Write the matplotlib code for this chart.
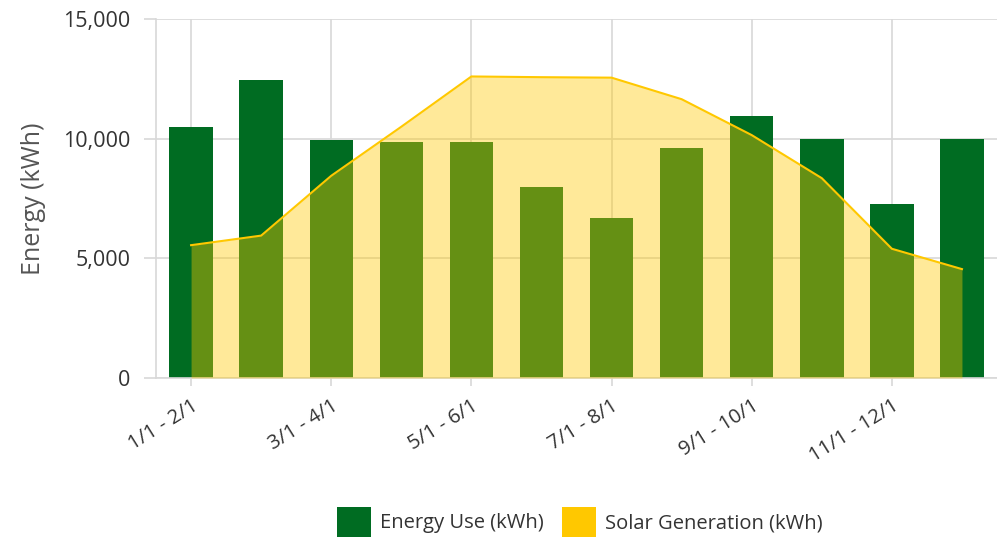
import matplotlib.pyplot as plt
from matplotlib.ticker import FuncFormatter
from matplotlib.patches import Patch

# data
periods = ['1/1 - 2/1', '2/1 - 3/1', '3/1 - 4/1', '4/1 - 5/1', '5/1 - 6/1', '6/1 - 7/1',
           '7/1 - 8/1', '8/1 - 9/1', '9/1 - 10/1', '10/1 - 11/1', '11/1 - 12/1', '12/1 - 1/1']
energy_use = [10500, 12450, 9950, 9850, 9850, 8000, 6700, 9600, 10950, 10000, 7250, 10000]
solar_gen = [5550, 5950, 8450, 10500, 12600, 12570, 12550, 11650, 10150, 8350, 5400, 4550]

green = '#006c22'
yellow = '#ffc800'
grid_col = '#d8d8d8'

plt.rcParams['font.family'] = ['Open Sans', 'DejaVu Sans']

fig = plt.figure(figsize=(9.97, 5.39), dpi=100)
ax = fig.add_axes([0.1565, 0.2987, 0.8435, 0.666])

x = list(range(len(periods)))
ax.bar(x, energy_use, width=0.62, color=green, zorder=2)
ax.fill_between(x, solar_gen, 0, color=yellow, alpha=0.4, linewidth=0, zorder=3)
ax.plot(x, solar_gen, color=yellow, linewidth=1.5, zorder=4)

ax.set_xlim(-0.5, len(periods) - 0.5)
ax.set_ylim(0, 15000)
ax.set_yticks([0, 5000, 10000, 15000])
ax.yaxis.set_major_formatter(FuncFormatter(lambda v, p: '{:,.0f}'.format(v)))
ax.set_xticks(x[::2])
ax.set_xticklabels(periods[::2], rotation=32, ha='right', rotation_mode='anchor',
                   fontsize=14.5, color='#333333')
ax.tick_params(axis='x', length=6, width=1.2, color=grid_col, pad=7)
ax.tick_params(axis='y', length=8.6, width=1.2, color=grid_col, pad=10,
               labelsize=15.5, labelcolor='#333333')

ax.grid(True, color=grid_col, linewidth=1.2, zorder=0)
ax.set_axisbelow(True)
for side in ['top', 'right']:
    ax.spines[side].set_visible(False)
for side in ['left', 'bottom']:
    ax.spines[side].set_color(grid_col)
    ax.spines[side].set_linewidth(1.2)

ax.set_ylabel('Energy (kWh)', fontsize=18, color='#555555', labelpad=12)

handles = [Patch(facecolor=green, label='Energy Use (kWh)'),
           Patch(facecolor=yellow, label='Solar Generation (kWh)')]
fig.legend(handles=handles, loc='center', bbox_to_anchor=(0.5817, 0.0315), ncol=2,
           frameon=False, fontsize=14.5, handlelength=1.69, handleheight=1.85,
           handletextpad=0.45, columnspacing=0.9, labelcolor='#333333',
           borderpad=0)

fig.savefig('out.png', dpi=100)
